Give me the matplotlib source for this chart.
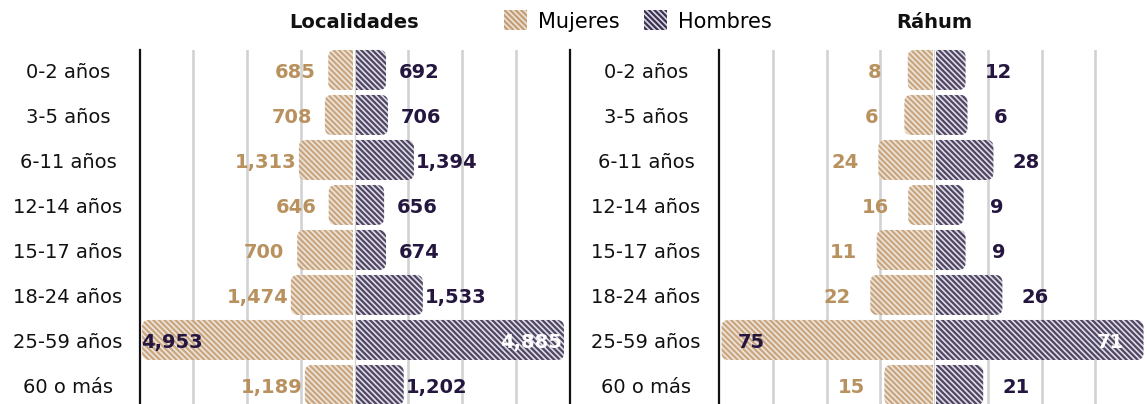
"""
Pirámide de población por grupo de edad: Localidades y Ráhum
"""

import matplotlib
matplotlib.use('Agg')
import matplotlib.pyplot as plt
import matplotlib.transforms as mtransforms
from matplotlib.patches import FancyBboxPatch, Rectangle, Patch

grupos = ['0-2 años', '3-5 años', '6-11 años', '12-14 años',
          '15-17 años', '18-24 años', '25-59 años', '60 o más']

loc_mujeres = [685, 708, 1313, 646, 700, 1474, 4953, 1189]
loc_hombres = [692, 706, 1394, 656, 674, 1533, 4885, 1202]

rah_mujeres = [8, 6, 24, 16, 11, 22, 75, 15]
rah_hombres = [12, 6, 28, 9, 9, 26, 71, 21]

# largo de las barras tal como se ven en la imagen original
# (los dos paneles usan las mismas longitudes)
largo_mujeres = [580, 660, 1270, 570, 1310, 1460, 4953, 1130]
largo_hombres = [705, 750, 1360, 660, 705, 1570, 4885, 1120]

c_muj_txt = '#b8915f'
c_hom_txt = '#24163f'
c_muj_face, c_muj_hatch = '#ece2d7', '#c49d74'
c_hom_face, c_hom_hatch = '#dcd8e3', '#3b3152'
rayas = '\\\\\\\\\\\\'

plt.rcParams['font.family'] = ['DejaVu Sans']
plt.rcParams['hatch.linewidth'] = 1.6

W, H = 1147, 404
fig = plt.figure(figsize=(W/100, H/100), dpi=100)

xmax = 5050
half_px = 215.0
ux = xmax/half_px            # unidades x por pixel
ylo, yhi = -0.444, -0.444 + 354/45.0
uy = (yhi - ylo)/354.0       # unidades y por pixel
alto = 0.889
gap = 1.5*ux
rpx = 7
dy = 0.05                    # ajuste vertical del texto


def barra(ax, y, val, lado, fc, hc):
    rx, ry = rpx*ux, rpx*uy
    if lado < 0:
        x0, w = -gap - val, val + rx
        clip = Rectangle((-3*xmax, -5), 3*xmax - gap, 20, transform=ax.transData)
    else:
        x0, w = gap - rx, val + rx
        clip = Rectangle((gap, -5), 3*xmax, 20, transform=ax.transData)
    p = FancyBboxPatch((x0, y - alto/2), w, alto,
                       boxstyle=f"round,pad=0,rounding_size={rx}",
                       mutation_aspect=ry/rx,
                       facecolor=fc, edgecolor=hc, hatch=rayas,
                       linewidth=0, alpha=0.88, zorder=2)
    ax.add_patch(p)
    p.set_clip_path(clip)


def panel(left_px, muj_lab, hom_lab, titulo, label_cx):
    ax = fig.add_axes([left_px/W, 0, 2*half_px/W, 354/H])
    ax.set_xlim(-xmax, xmax)
    ax.set_ylim(yhi, ylo)
    for k in (-3, -2, -1, 1, 2, 3):
        ax.axvline(k*xmax/4, color='#d2d2d2', lw=1.9, zorder=1)
    ax.axvline(0, color='#d0d0d0', lw=0.9, zorder=1)
    off = 33*ux
    big = largo_mujeres.index(max(largo_mujeres))
    for i in range(len(grupos)):
        barra(ax, i, largo_mujeres[i], -1, c_muj_face, c_muj_hatch)
        barra(ax, i, largo_hombres[i], 1, c_hom_face, c_hom_hatch)
        if i == big:
            ax.text(-gap - largo_mujeres[i] + off - 3*ux, i + dy, f'{muj_lab[i]:,}',
                    ha='center', va='center', fontsize=14, fontweight='bold',
                    color=c_hom_txt, zorder=5)
            ax.text(gap + largo_hombres[i] - off, i + dy, f'{hom_lab[i]:,}',
                    ha='center', va='center', fontsize=14, fontweight='bold',
                    color='white', zorder=5)
        else:
            ax.text(-gap - largo_mujeres[i] - off, i + dy, f'{muj_lab[i]:,}',
                    ha='center', va='center', fontsize=14, fontweight='bold',
                    color=c_muj_txt, zorder=5)
            ax.text(gap + largo_hombres[i] + off, i + dy, f'{hom_lab[i]:,}',
                    ha='center', va='center', fontsize=14, fontweight='bold',
                    color=c_hom_txt, zorder=5)
    tr = mtransforms.blended_transform_factory(fig.transFigure, ax.transData)
    for i, g in enumerate(grupos):
        ax.text(label_cx/W, i + dy, g, transform=tr, ha='center', va='center',
                fontsize=14, color='#111111', clip_on=False)
    for s in ('top', 'bottom'):
        ax.spines[s].set_visible(False)
    for s in ('left', 'right'):
        ax.spines[s].set_linewidth(1.6)
        ax.spines[s].set_color('#111111')
    ax.set_xticks([])
    ax.set_yticks([])
    ax.patch.set_alpha(0)
    fig.text((left_px + half_px)/W, 1 - 22/H, titulo, ha='center', va='center',
             fontsize=14, fontweight='bold', color='#111111')
    return ax


panel(139.5, loc_mujeres, loc_hombres, 'Localidades', 68)
panel(719, rah_mujeres, rah_hombres, 'Ráhum', 646)

handles = [Patch(facecolor=c_muj_face, edgecolor=c_muj_hatch, hatch=rayas, lw=0),
           Patch(facecolor=c_hom_face, edgecolor=c_hom_hatch, hatch=rayas, lw=0)]
fig.legend(handles, ['Mujeres', 'Hombres'], loc='center', ncol=2,
           bbox_to_anchor=(638/W, 1 - 21/H), frameon=False, fontsize=15,
           handlelength=1.1, handleheight=1.1, handletextpad=0.5,
           columnspacing=1.2, borderpad=0)

fig.savefig('out.png', dpi=100)
